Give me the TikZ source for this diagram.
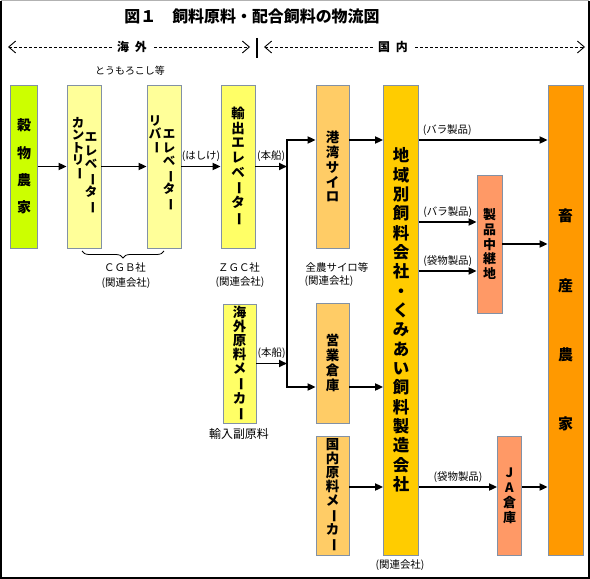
\documentclass[tikz,border=0pt]{standalone}
\usepackage{fontspec}
\usepackage{graphicx}
\usetikzlibrary{arrows.meta,decorations.pathreplacing}
\newfontfamily\jp{Noto Sans CJK JP}
\definecolor{edgec}{RGB}{130,145,165}
\definecolor{grainc}{RGB}{204,255,0}
\definecolor{palec}{RGB}{255,255,153}
\definecolor{yelc}{RGB}{255,255,102}
\definecolor{siloc}{RGB}{255,204,102}
\definecolor{mainc}{RGB}{255,204,0}
\definecolor{relayc}{RGB}{255,153,102}
\definecolor{stockc}{RGB}{255,153,0}
\newcommand{\tate}{\rotatebox[origin=c]{-90}{ー}}
\newcommand{\vfont}[2]{\jp\bfseries\fontsize{#1}{#2}\selectfont}
\tikzset{
  box/.style={draw=edgec, line width=0.8bp, inner sep=0pt, align=center},
  vtxt/.style={inner sep=0pt, align=center},
  arr/.style={line width=1.8bp, -{Triangle[length=8bp,width=7bp]}},
  lbl/.style={font=\jp\fontsize{10.5}{12}\selectfont, inner sep=0pt},
  span/.style={line width=0.9bp, dash pattern=on 3bp off 2bp,
    {Straight Barb[length=7bp,width=12bp]}-{Straight Barb[length=7bp,width=12bp]}},
}
\begin{document}
\begin{tikzpicture}[x=1bp,y=-1bp]
    \useasboundingbox (0,0) rectangle (590,579);
    %% frame
    \draw[black!30, line width=1bp] (1,1) -- (589,1);
    \draw[line width=2bp] (1,1) -- (1,578) -- (589,578) -- (589,1);
    \node[font=\jp\bfseries\fontsize{16}{18}\selectfont] (title) at (252,16) {図１　飼料原料・配合飼料の物流図};

    %% overseas / domestic
    \coordinate (ovL) at (8,47);
    \coordinate (ovR) at (250,47);
    \coordinate (dmL) at (264,47);
    \coordinate (dmR) at (585,47);
    \draw[span] (ovL) -- (ovR);
    \draw[span] (dmL) -- (dmR);
    \draw[line width=1.2bp] (257,38) -- (257,58);
    \node[fill=white, inner sep=5bp, font=\vfont{12}{14}] (ovlbl) at (132,47) {海\hspace{6bp}外};
    \node[fill=white, inner sep=5bp, font=\vfont{12}{14}] (dmlbl) at (393,47) {国\hspace{6bp}内};
    \node[lbl, font=\jp\fontsize{10}{12}\selectfont] (corn) at (130,71) {とうもろこし等};

    %% boxes
    \node[box, fill=grainc, minimum width=27bp, minimum height=163bp, font=\vfont{14}{27.3}] (farm) at (24,166.5) {穀\\物\\農\\家};
    \node[box, fill=palec, minimum width=34bp, minimum height=163bp] (cntry) at (84,166.5) {};
    \node[vtxt, anchor=north, font=\vfont{12.5}{12.5}] (cntryL) at (78,117) {カ\\ン\\ト\\リ\\\tate};
    \node[vtxt, anchor=north, font=\vfont{12.5}{14}] (cntryR) at (91,132) {エ\\レ\\ベ\\\tate\\タ\\\tate};
    \node[box, fill=palec, minimum width=34bp, minimum height=163bp] (river) at (164,166.5) {};
    \node[vtxt, anchor=north, font=\vfont{12.5}{12.5}] (riverL) at (155,116) {リ\\バ\\\tate};
    \node[vtxt, anchor=north, font=\vfont{12.5}{14}] (riverR) at (169,129) {エ\\レ\\ベ\\\tate\\タ\\\tate};
    \node[box, fill=yelc, minimum width=34bp, minimum height=163bp, font=\vfont{13.5}{14.7}] (export) at (238,166.5) {輸\\出\\エ\\レ\\ベ\\\tate\\タ\\\tate};
    \node[box, fill=siloc, minimum width=33bp, minimum height=163bp, font=\vfont{13.5}{15}] (silo) at (332.5,166.5) {港\\湾\\サ\\イ\\ロ};
    \node[box, fill=mainc, minimum width=35bp, minimum height=470bp, font=\vfont{16.5}{19.4}] (big) at (401,320) {地\\域\\別\\飼\\料\\会\\社\\・\\く\\み\\あ\\い\\飼\\料\\製\\造\\会\\社};
    \node[box, fill=stockc, minimum width=35bp, minimum height=470bp, font=\vfont{15}{69.5}] (stock) at (565.5,320) {畜\\産\\農\\家};
    \node[box, fill=relayc, minimum width=25bp, minimum height=138bp, font=\vfont{13}{14.7}] (relay) at (489.5,244) {製\\品\\中\\継\\地};
    \node[box, fill=yelc, minimum width=33bp, minimum height=119bp, font=\vfont{13.5}{14}] (maker) at (239.5,363.5) {海\\外\\原\\料\\メ\\\tate\\カ\\\tate};
    \node[box, fill=siloc, minimum width=33bp, minimum height=120bp, font=\vfont{13.5}{15}] (store) at (332.5,363) {営\\業\\倉\\庫};
    \node[box, fill=siloc, minimum width=33bp, minimum height=119bp, font=\vfont{13.5}{14}] (dom) at (332.5,495.5) {国\\内\\原\\料\\メ\\\tate\\カ\\\tate};
    \node[box, fill=relayc, minimum width=24bp, minimum height=119bp, font=\vfont{13}{15}] (ja) at (509.5,495.5) {J\\A\\倉\\庫};

    %% notes
    \draw[line width=0.8bp, decorate, decoration={brace, mirror, amplitude=7bp}] (82,251) -- (164,251);
    \node[lbl] (cgb) at (125,268) {ＣＧＢ社};
    \node[lbl] (cgbrel) at (126,283) {(関連会社)};
    \node[lbl] (zgc) at (239,268) {ＺＧＣ社};
    \node[lbl] (zgcrel) at (240,282) {(関連会社)};
    \node[lbl] (zen) at (337,268) {全農サイロ等};
    \node[lbl] (zenrel) at (329,281) {(関連会社)};
    \node[lbl, font=\jp\fontsize{12}{14}\selectfont] (sub) at (239,434) {輸入副原料};
    \node[lbl] (bigrel) at (400,565) {(関連会社)};

    %% flows
    \coordinate (jtop) at (287,140);
    \coordinate (jbot) at (287,387);
    \coordinate (rowF) at (0,222);
    \coordinate (rowG) at (0,271);
    \coordinate (rowE) at (0,487);
    \draw[arr] (farm) -- (cntry);
    \draw[arr] (cntry) -- (river);
    \draw[arr] (river) -- node[lbl, above=4bp] {(はしけ)} (export);
    \draw[arr] (export) -- node[lbl, above=4bp] {(本船)} (export -| jtop);
    \draw[arr] (maker) -- node[lbl, above=4bp] {(本船)} (maker -| jtop);
    \draw[arr] (jbot) -- (jtop) -- (silo.west |- jtop);
    \draw[arr] (jtop) -- (jbot) -- (store.west |- jbot);
    \draw[arr] (silo.east |- jtop) -- (big.west |- jtop);
    \draw[arr] (store.east |- jbot) -- (big.west |- jbot);
    \draw[arr] (dom.east |- rowE) -- (big.west |- rowE);
    \draw[arr] (big.east |- jtop) -- node[lbl, above=4bp, pos=0.22] {(バラ製品)} (stock.west |- jtop);
    \draw[arr] (big.east |- rowF) -- node[lbl, above=4bp] {(バラ製品)} (relay.west |- rowF);
    \draw[arr] (big.east |- rowG) -- node[lbl, above=4bp] {(袋物製品)} (relay.west |- rowG);
    \draw[arr] (relay) -- (relay -| stock.west);
    \draw[arr] (big.east |- rowE) -- node[lbl, above=4bp] {(袋物製品)} (ja.west |- rowE);
    \draw[arr] (ja.east |- rowE) -- (stock.west |- rowE);
\end{tikzpicture}
\end{document}
